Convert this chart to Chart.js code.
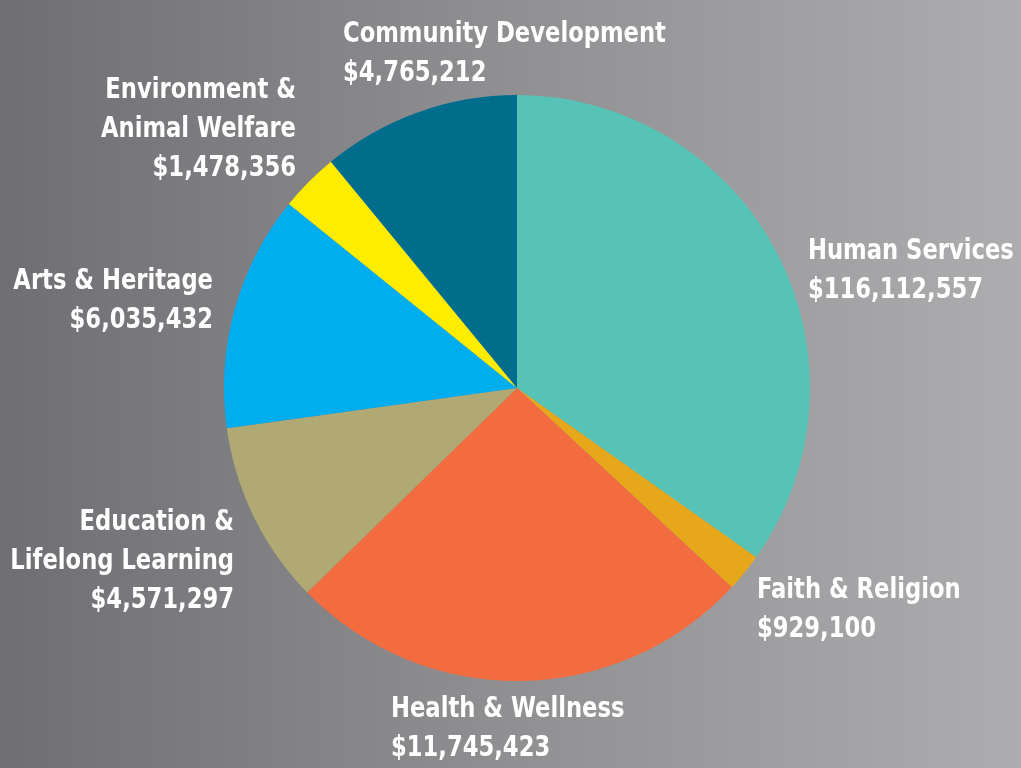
<!DOCTYPE html>
<html>
<head>
<meta charset="utf-8">
<script src="https://cdn.jsdelivr.net/npm/chart.js@4/dist/chart.umd.min.js"></script>
<style>
  html, body { margin: 0; padding: 0; }
  body {
    width: 1021px; height: 768px; overflow: hidden;
    background: linear-gradient(to right, #6f6f73 0%, #8d8d90 45%, #adadaf 100%);
  }
  #wrap { position: relative; width: 1021px; height: 768px; }
</style>
</head>
<body>
<div id="wrap"><canvas id="pieChart"></canvas></div>
<script>
// Categories, clockwise from 12 o'clock
const categories = [
  'Human Services',
  'Faith & Religion',
  'Health & Wellness',
  'Education & Lifelong Learning',
  'Arts & Heritage',
  'Environment & Animal Welfare',
  'Community Development'
];
// Dollar amounts printed in the labels
const amounts = ['$116,112,557', '$929,100', '$11,745,423', '$4,571,297', '$6,035,432', '$1,478,356', '$4,765,212'];
// Slice shares (%) as drawn in the picture (not proportional to the amounts)
const sliceShares = [34.8, 2.1, 25.8, 10.1, 13.0, 3.25, 10.95];
const sliceColors = ['#57c3b7', '#e6a71b', '#f26c3f', '#b0a973', '#00aeef', '#ffed00', '#006d8c'];

// Label text lines and where each block sits
const labelLines = [
  ['Human Services'],
  ['Faith & Religion'],
  ['Health & Wellness'],
  ['Education &', 'Lifelong Learning'],
  ['Arts & Heritage'],
  ['Environment &', 'Animal Welfare'],
  ['Community Development']
];
const labelLayout = [
  { x: 808, y: 252, align: 'left' },
  { x: 757, y: 591, align: 'left' },
  { x: 391, y: 710, align: 'left' },
  { x: 234, y: 523, align: 'right' },
  { x: 213, y: 282, align: 'right' },
  { x: 296, y: 91, align: 'right' },
  { x: 343, y: 35, align: 'left' }
];
const lineGap = 39;
const squeeze = 0.9; // the original face is narrower

const labelPlugin = {
  id: 'sliceLabels',
  afterDraw(chart) {
    const ctx = chart.ctx;
    ctx.save();
    ctx.fillStyle = '#ffffff';
    ctx.font = 'bold 28px "Liberation Sans Narrow", "DejaVu Sans Condensed", sans-serif';
    ctx.textBaseline = 'middle';
    categories.forEach((cat, i) => {
      const pos = labelLayout[i];
      const lines = labelLines[i].concat([amounts[i]]);
      ctx.textAlign = pos.align;
      lines.forEach((txt, j) => {
        ctx.save();
        ctx.translate(pos.x, pos.y + j * lineGap);
        ctx.scale(squeeze, 1);
        ctx.fillText(txt, 0, 0);
        ctx.restore();
      });
    });
    ctx.restore();
  }
};

new Chart(document.getElementById('pieChart'), {
  type: 'pie',
  data: {
    labels: categories,
    datasets: [{
      data: sliceShares,
      backgroundColor: sliceColors,
      borderWidth: 0
    }]
  },
  options: {
    responsive: true,
    maintainAspectRatio: false,
    animation: false,
    layout: { padding: { left: 224, right: 211, top: 95, bottom: 87 } },
    plugins: {
      legend: { display: false },
      tooltip: { enabled: false }
    }
  },
  plugins: [labelPlugin]
});
</script>
</body>
</html>
